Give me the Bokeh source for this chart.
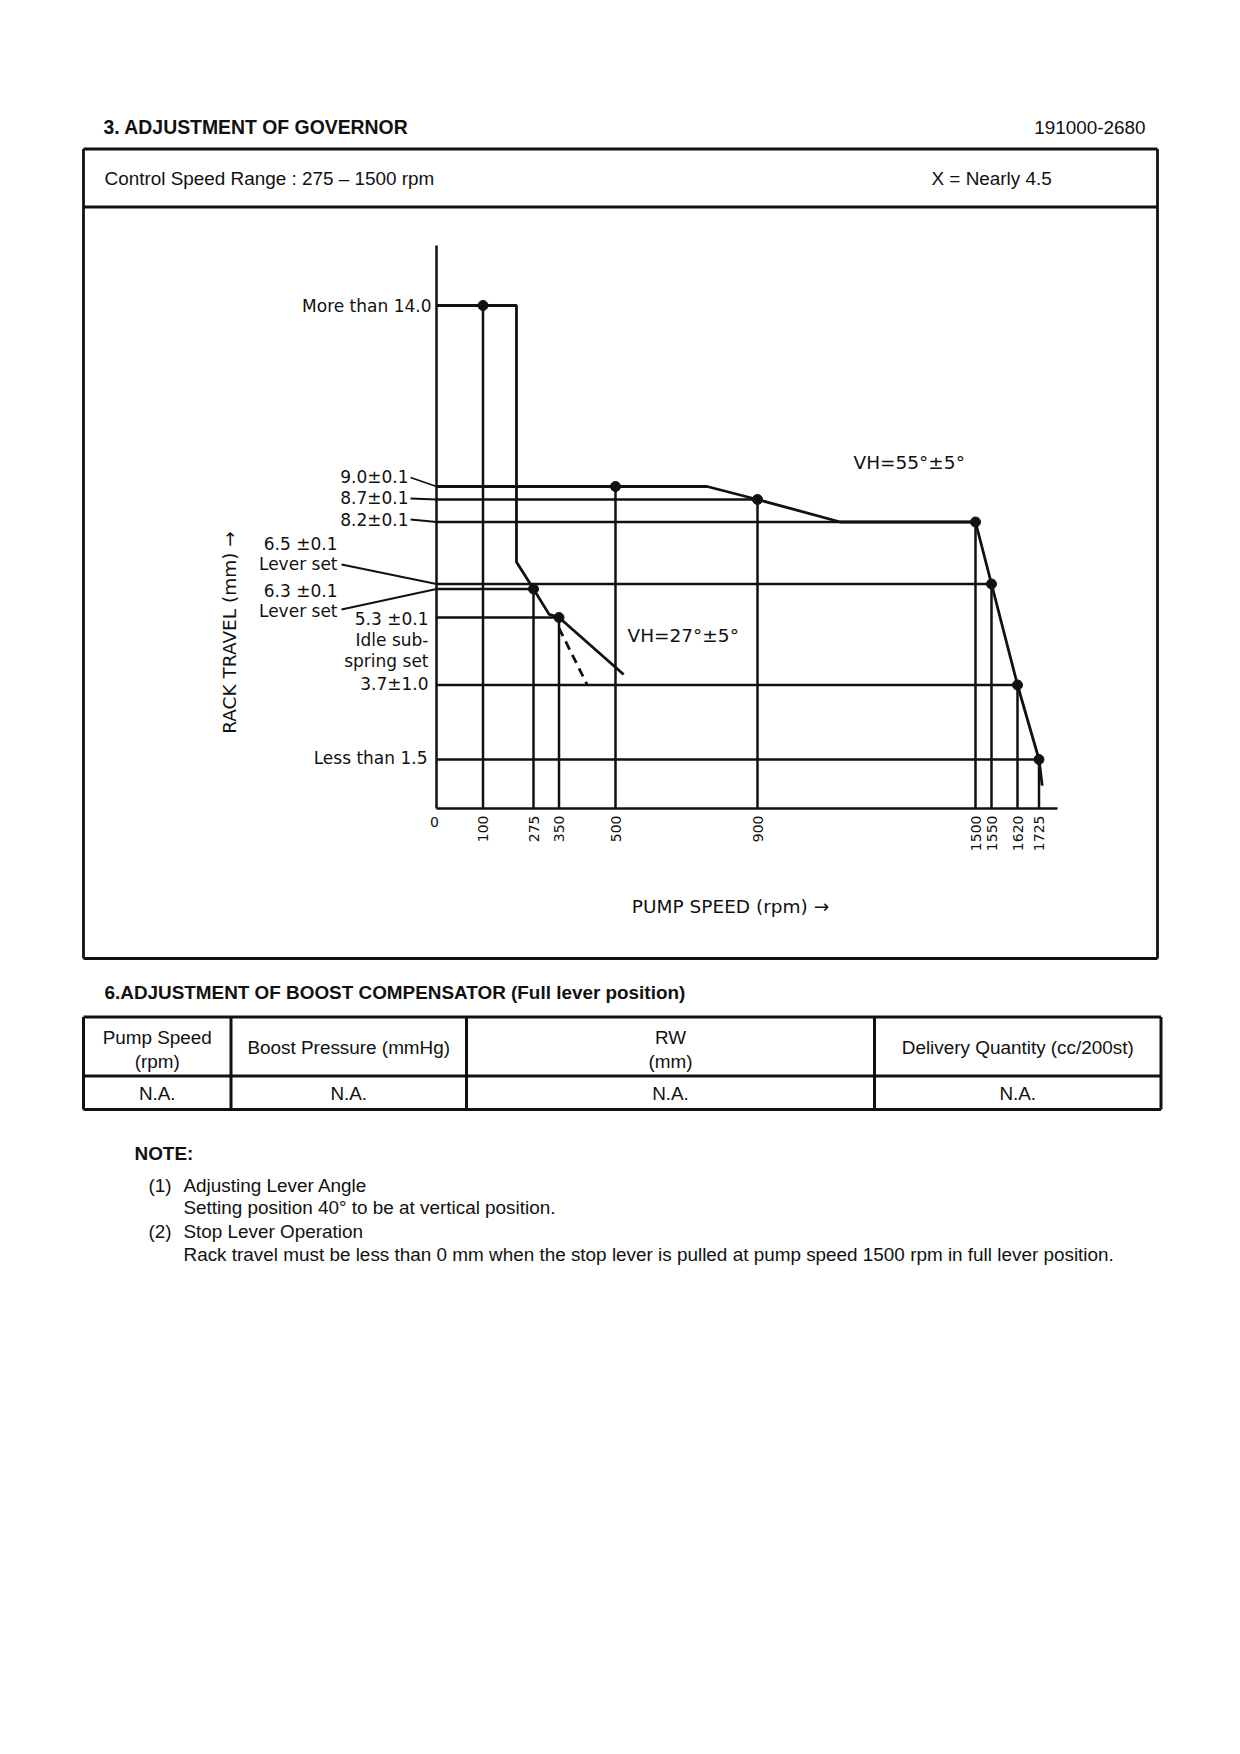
import numpy as np
from bokeh.plotting import figure
from bokeh.models import Range1d
from bokeh.core.properties import value
from bokeh.embed import file_html
from bokeh.resources import INLINE

# ---------------- data ----------------
speed_ticks = [0, 100, 275, 350, 500, 900, 1500, 1550, 1620, 1725]
speed_tick_labels = ["0", "100", "275", "350", "500", "900", "1500", "1550", "1620", "1725"]

# measured set points (rpm, rack travel mm)
point_rpm = [100, 275, 350, 500, 900, 1500, 1550, 1620, 1725]
point_mm = [14.0, 6.3, 5.3, 9.0, 8.7, 8.2, 6.5, 3.7, 1.5]

# full-lever governor curve (VH = 55 deg)
full_curve_rpm = [0, 500, 758, 900, 1128, 1500, 1550, 1620, 1725, 1738]
full_curve_mm = [9.0, 9.0, 9.0, 8.7, 8.2, 8.2, 6.5, 3.7, 1.5, 0.7]

# idle / start curve (VH = 27 deg)
idle_curve_rpm = [0, 100, 216, 216, 275, 321, 350, 523]
idle_curve_mm = [14.0, 14.0, 14.0, 7.1, 6.3, 5.41, 5.3, 3.95]

# idle sub-spring dashed branch
idle_dash_rpm = [350, 425]
idle_dash_mm = [5.05, 3.7]

travel_labels = ["More than 14.0", "9.0±0.1", "8.7±0.1", "8.2±0.1",
                 "6.5 ±0.1", "Lever set", "6.3 ±0.1", "Lever set",
                 "5.3 ±0.1", "Idle sub-", "spring set", "3.7±1.0", "Less than 1.5"]
vh_labels = ["VH=55°±5°", "VH=27°±5°"]

table_headers = [["Pump Speed", "(rpm)"], ["Boost Pressure (mmHg)"], ["RW", "(mm)"],
                 ["Delivery Quantity (cc/200st)"]]
table_values = ["N.A.", "N.A.", "N.A.", "N.A."]

notes = ["Adjusting Lever Angle",
         "Setting position 40° to be at vertical position.",
         "Stop Lever Operation",
         "Rack travel must be less than 0 mm when the stop lever is pulled at pump speed 1500 rpm in full lever position."]

# ---------------- schematic (non-linear) chart scale ----------------
SCALE_RPM = [0, 100, 275, 350, 500, 900, 1500, 1550, 1620, 1725, 1800]
SCALE_X = [436, 482.5, 533, 558.5, 615, 757, 975, 991, 1017, 1038.5, 1057]
SCALE_MM = [0, 1.5, 3.7, 5.3, 6.3, 6.5, 8.2, 8.7, 9.0, 14.0, 15.8]
SCALE_Y = [808, 759, 684.5, 617, 588.5, 583.5, 521.5, 499, 486, 305, 245]


def sx(r):
    return np.interp(np.asarray(r, dtype=float), SCALE_RPM, SCALE_X)


def sy(m):
    return -np.interp(np.asarray(m, dtype=float), SCALE_MM, SCALE_Y)


def Y(py):
    return -np.asarray(py, dtype=float)


W, H = 1232, 1746
p = figure(width=W, height=H, output_backend="svg", toolbar_location=None,
           x_range=Range1d(0, W), y_range=Range1d(-H, 0),
           min_border=0, min_border_left=0, min_border_right=0,
           min_border_top=0, min_border_bottom=0)
p.xaxis.visible = False
p.yaxis.visible = False
p.grid.visible = False
p.outline_line_color = None
p.background_fill_color = "white"
p.border_fill_color = "white"

DOC = value("Liberation Sans")
CH = value("DejaVu Sans")
BLK = "#111111"
FS = "18.9px"


def doc_text(x, y, t, **kw):
    kw.setdefault("text_baseline", "middle")
    kw.setdefault("text_font_size", FS)
    p.text(x=x, y=Y(y), text=t, text_font=DOC, text_color=BLK, **kw)


# ---------------- page header ----------------
doc_text([103], [126.5], ["3.  ADJUSTMENT OF GOVERNOR"], text_font_style="bold",
         text_font_size="19.4px")
doc_text([1145], [126.5], ["191000-2680"], text_align="right")

# chart box
bx0, bx1, by0, bsep, by1 = 83, 1157, 148.5, 206.5, 958
p.segment(x0=[bx0, bx0, bx0, bx0, bx1], y0=Y([by0, bsep, by1, by0, by0]),
          x1=[bx1, bx1, bx1, bx0, bx1], y1=Y([by0, bsep, by1, by1, by1]),
          line_width=2.8, line_color=BLK)
doc_text([104], [178], ["Control Speed Range : 275 – 1500 rpm"])
doc_text([931], [178], ["X = Nearly 4.5"])

# ---------------- chart ----------------
LW = 2.5
# axes
p.line(x=sx([0, 0]), y=sy([0, 15.8]), line_width=LW, line_color=BLK)
p.line(x=sx([0, 1800]), y=sy([0, 0]), line_width=LW, line_color=BLK)

# horizontal reference lines (axis -> point)
p.segment(x0=sx(np.zeros(len(point_rpm))), y0=sy(point_mm), x1=sx(point_rpm), y1=sy(point_mm),
          line_width=LW, line_color=BLK)
# vertical reference lines (base -> point)
p.segment(x0=sx(point_rpm), y0=sy(np.zeros(len(point_rpm))), x1=sx(point_rpm), y1=sy(point_mm),
          line_width=LW, line_color=BLK)

# governor curves
p.line(x=sx(full_curve_rpm), y=sy(full_curve_mm), line_width=2.8, line_color=BLK)
p.line(x=sx(idle_curve_rpm), y=sy(idle_curve_mm), line_width=2.8, line_color=BLK)
p.line(x=sx(idle_dash_rpm), y=sy(idle_dash_mm), line_width=2.8, line_color=BLK,
       line_dash="9 6")
p.scatter(x=sx(point_rpm), y=sy(point_mm), size=10, marker="circle", color=BLK)

# x tick labels
p.text(x=[sx(0) - 2], y=Y([821]), text=[speed_tick_labels[0]], text_font=CH,
       text_font_size="14px", text_align="center", text_baseline="middle", text_color=BLK)
p.text(x=sx(speed_ticks[1:]), y=Y([815] * (len(speed_ticks) - 1)), text=speed_tick_labels[1:],
       text_font=CH, text_font_size="14px", angle=np.pi / 2, text_align="right",
       text_baseline="middle", text_color=BLK)

# y annotation labels
lab_x = [431, 408, 408, 408, 337, 337, 337, 337, 428, 428, 428, 428, 427]
lab_y = [305, 476, 497, 519, 543, 563, 590, 610, 618, 639, 660, 683, 757]
p.text(x=lab_x, y=Y(lab_y), text=travel_labels, text_font=CH, text_font_size="17px",
       text_align="right", text_baseline="middle", text_color=BLK)
# leader lines
p.segment(x0=[410, 410, 410, 341, 341], y0=Y([477, 498, 519, 564, 609]),
          x1=sx([0] * 5), y1=sy([9.0, 8.7, 8.2, 6.5, 6.3]), line_width=1.8, line_color=BLK)

# VH labels
p.text(x=[853, 627], y=Y([462, 635]), text=vh_labels, text_font=CH, text_font_size="18.5px",
       text_baseline="middle", text_color=BLK)

# axis titles
p.text(x=[730], y=Y([906]), text=["PUMP SPEED (rpm) →"], text_font=CH, text_font_size="18.5px",
       text_align="center", text_baseline="middle", text_color=BLK)
p.text(x=[229], y=Y([632]), text=["RACK TRAVEL (mm) →"], text_font=CH, text_font_size="18.5px",
       text_align="center", text_baseline="middle", angle=np.pi / 2, text_color=BLK)

# ---------------- boost compensator table ----------------
doc_text([104], [992], ["6.ADJUSTMENT OF BOOST COMPENSATOR (Full lever position)"],
         text_font_style="bold")
tx = [83, 230.5, 466, 874, 1160.5]
ty0, tmid, ty1 = 1016.5, 1075.5, 1109
p.segment(x0=[tx[0], tx[0], tx[0]] + tx, y0=Y([ty0, tmid, ty1] + [ty0] * 5),
          x1=[tx[-1], tx[-1], tx[-1]] + tx, y1=Y([ty0, tmid, ty1] + [ty1] * 5),
          line_width=3, line_color=BLK)
hx, hy, ht = [], [], []
for i, lines in enumerate(table_headers):
    cx = (tx[i] + tx[i + 1]) / 2
    ys = [1036.5, 1060.5] if len(lines) == 2 else [1047]
    for s, yy in zip(lines, ys):
        hx.append(cx); hy.append(yy); ht.append(s)
doc_text(hx, hy, ht, text_align="center")
doc_text([(tx[i] + tx[i + 1]) / 2 for i in range(4)], [1093] * 4, table_values,
         text_align="center")

# ---------------- notes ----------------
doc_text([134], [1153], ["NOTE:"], text_font_style="bold")
doc_text([148, 148], [1184.5, 1231], ["(1)", "(2)"])
doc_text([183] * 4, [1184.5, 1207, 1231, 1254], notes)

open("out.html", "w").write(file_html(p, INLINE))
